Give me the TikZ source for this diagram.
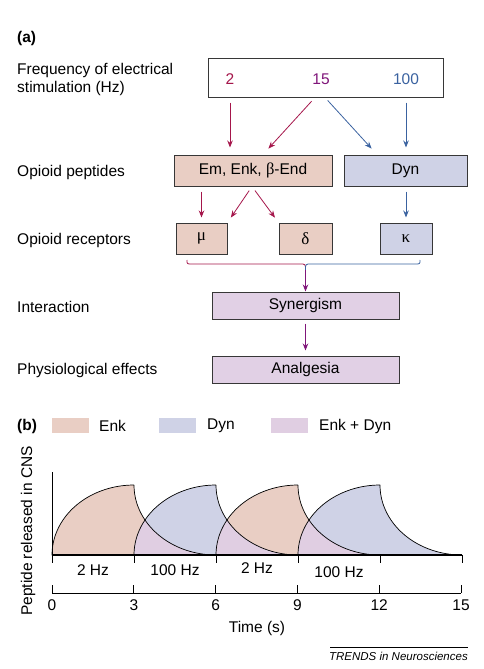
\documentclass[tikz,border=0pt]{standalone}
\usepackage{fontspec}
\setmainfont{Liberation Sans}
\newfontfamily\grk{Liberation Serif}
\usetikzlibrary{arrows.meta}
\definecolor{peach}{RGB}{233,206,196}
\definecolor{lav}{RGB}{207,210,230}
\definecolor{ovl}{RGB}{224,206,226}
\definecolor{mauve}{RGB}{225,208,229}
\definecolor{crim}{RGB}{165,22,75}
\definecolor{bluec}{RGB}{58,98,160}
\definecolor{purp}{RGB}{128,22,122}
\definecolor{boxline}{RGB}{55,55,55}
\def\pulsepath#1{plot[domain=180:90,samples=40] ({#1+82+82*cos(\x)},{555-70*sin(\x)}) -- plot[domain=180:270,samples=40] ({#1+164+82*cos(\x)},{485-70*sin(\x)}) -- cycle}
\begin{document}
\begin{tikzpicture}[x=1pt,y=-1pt,font=\fontsize{15.5}{18}\selectfont,
  box/.style={draw=boxline,line width=1pt,inner sep=0pt},
  lbl/.style={anchor=west,align=left,inner sep=0pt},
  arr/.style={-{Stealth[length=7pt,width=5.5pt]},line width=0.8pt},
  swatch/.style={inner sep=0pt,minimum width=37pt,minimum height=15pt},
  curve/.style={draw=black,line width=0.7pt},
  gk/.style={font=\fontsize{17}{18}\selectfont\grk}]
\useasboundingbox (0,0) rectangle (483,669);
% ---------- (a) ----------
\node[lbl,font=\fontsize{15.5}{18}\selectfont\bfseries] (la) at (17,38) {(a)};
\node[lbl] (l1) at (17,79) {Frequency of electrical\\stimulation (Hz)};
\node[lbl] (l2) at (17,172) {Opioid peptides};
\node[lbl] (l3) at (17,240) {Opioid receptors};
\node[lbl] (l4) at (17,307) {Interaction};
\node[lbl] (l5) at (17,370) {Physiological effects};

\node[box,fill=white,minimum width=235pt,minimum height=38pt] (fbox) at (325.5,78) {};
\node[text=crim] (n2) at (230,79) {2};
\node[text=purp] (n15) at (321,79) {15};
\node[text=bluec] (n100) at (406,79) {100};

\node[box,fill=peach,minimum width=158pt,minimum height=31pt] (em) at (253,170.5) {Em, Enk, {\grk\fontsize{16.5}{18}\selectfont β}-End};
\node[box,fill=lav,minimum width=123pt,minimum height=31pt] (dyn) at (405.5,170.5) {Dyn};
\node[box,fill=peach,minimum width=51pt,minimum height=31pt,gk] (mu) at (201.5,238.5) {μ};
\node[box,fill=peach,minimum width=53pt,minimum height=31pt,gk] (delta) at (305.5,238.5) {δ};
\node[box,fill=lav,minimum width=52pt,minimum height=31pt,gk] (kappa) at (406,238.5) {κ};
\node[box,fill=mauve,minimum width=187pt,minimum height=27pt] (syn) at (305.5,305.5) {Synergism};
\node[box,fill=mauve,minimum width=187pt,minimum height=27pt] (ana) at (305.5,369.5) {Analgesia};

\draw[arr,crim,shorten <=5pt,shorten >=7pt] (n2 |- fbox.south) -- (n2 |- em.north);
\draw[arr,crim,shorten <=5pt,shorten >=8pt] ([xshift=-6pt]n15.center |- fbox.south) -- ([xshift=10pt]em.north);
\draw[arr,bluec,shorten <=4pt,shorten >=8pt] ([xshift=4pt]n15.center |- fbox.south) -- ([xshift=-28.5pt]dyn.north);
\draw[arr,bluec,shorten <=5pt,shorten >=7pt] (n100 |- fbox.south) -- (n100 |- dyn.north);

\draw[arr,crim,shorten <=5pt,shorten >=5pt] (em.south -| mu) -- (mu.north);
\draw[arr,crim,shorten <=5pt,shorten >=6pt] ([xshift=-1pt]em.south) -- (mu.north east);
\draw[arr,crim,shorten <=5pt,shorten >=6pt] ([xshift=-1pt]em.south) -- (delta.north west);
\draw[arr,bluec,shorten <=5pt,shorten >=5pt] (dyn.south -| kappa) -- (kappa.north);

\coordinate (bl) at (187,260);
\coordinate (bm) at (305.5,270);
\coordinate (br) at (420,260);
\draw[crim,line width=0.8pt] (bl) .. controls (187,264) .. (192,264) -- (300,264) .. controls (305.5,264) .. (bm);
\draw[bluec,line width=0.8pt] (bm) .. controls (305.5,264) .. (311,264) -- (415,264) .. controls (420,264) .. (br);
\draw[arr,purp] (bm) -- (syn.north);
\draw[arr,purp,shorten <=4pt,shorten >=5pt] (syn.south) -- (ana.north);

% ---------- (b) ----------
\node[lbl,font=\fontsize{15.5}{18}\selectfont\bfseries] (lb) at (17,426) {(b)};
\node[swatch,fill=peach,anchor=west] (s1) at (52,425.5) {};
\node[lbl] (t1) at (99,426) {Enk};
\node[swatch,fill=lav,anchor=west] (s2) at (159,425.5) {};
\node[lbl] (t2) at (207,426) {Dyn};
\node[swatch,fill=ovl,anchor=west] (s3) at (271,425.5) {};
\node[lbl] (t3) at (319,426) {Enk + Dyn};

\node[rotate=90] (ylab) at (28,531) {Peptide released in CNS};

\fill[peach] \pulsepath{52};
\fill[peach] \pulsepath{216};
\fill[lav] \pulsepath{134};
\fill[lav] \pulsepath{298};
\begin{scope}\clip \pulsepath{52}; \fill[ovl] \pulsepath{134};\end{scope}
\begin{scope}\clip \pulsepath{134}; \fill[ovl] \pulsepath{216};\end{scope}
\begin{scope}\clip \pulsepath{216}; \fill[ovl] \pulsepath{298};\end{scope}
\draw[curve] \pulsepath{52};
\draw[curve] \pulsepath{134};
\draw[curve] \pulsepath{216};
\draw[curve] \pulsepath{298};

\coordinate (yt) at (52,472);
\coordinate (o) at (52,555);
\coordinate (e) at (462,555);
\draw[line width=0.7pt] (yt) -- (o);
\draw[line width=1.1pt] (o) -- (e);
\foreach \t in {0,3,...,15} \draw[line width=0.7pt] ({52+27.333*\t},555) -- ({52+27.333*\t},563);
\node (h1) at (93,570) {2 Hz};
\node (h2) at (175,570) {100 Hz};
\node (h3) at (257,568) {2 Hz};
\node (h4) at (339,572) {100 Hz};

\coordinate (a0) at (52,593);
\coordinate (a1) at (461,593);
\draw[line width=0.7pt] (a0) -- (a1);
\foreach \t in {0,3,...,15} {
  \draw[line width=0.7pt] ({52+27.27*\t},585) -- ({52+27.27*\t},593);
  \node (k\t) at ({52+27.27*\t},605) {\t};
}
\node (tx) at (257,628) {Time (s)};

\coordinate (tl) at (330,647);
\coordinate (tr) at (468,647);
\draw[line width=0.6pt] (tl) -- (tr);
\node[anchor=east,inner sep=0pt,font=\fontsize{11.5}{13}\selectfont\itshape] (tr2) at (468,656) {TRENDS in Neurosciences};
\end{tikzpicture}
\end{document}
